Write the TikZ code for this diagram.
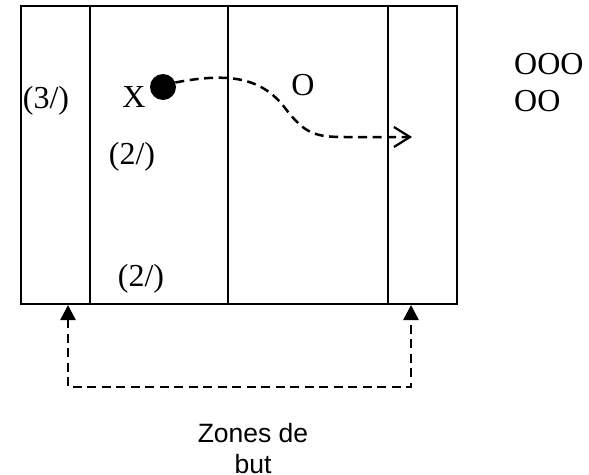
\documentclass[tikz,border=0pt]{standalone}
\usepackage{fontspec}
\setmainfont{Liberation Serif}
\newfontfamily\sansf{Liberation Sans}
\usetikzlibrary{arrows.meta}
\begin{document}
\begin{tikzpicture}[x=1pt,y=-1pt,
  frame/.style={line width=1.8pt},
  dashline/.style={line width=2.5pt, dash pattern=on 9pt off 5.5pt},
  lbl/.style={inner sep=0pt, font=\fontsize{32}{37}\selectfont},
  sanslbl/.style={inner sep=0pt, align=center, font=\sansf\fontsize{26.5}{31}\selectfont},
  dotnode/.style={circle, fill=black, minimum size=26pt, inner sep=0pt}]
\useasboundingbox (0,0) rectangle (589,474);
% field
\coordinate (tl) at (21,6);
\coordinate (br) at (457,304);
\draw[frame] (tl) rectangle (br);
\draw[frame] (90,6) -- (90,304);
\draw[frame] (228,6) -- (228,304);
\draw[frame] (388,6) -- (388,304);
% labels
\node[lbl] (l3) at (46,101) {(3/)};
\node[lbl] (l2a) at (132,157) {(2/)};
\node[lbl] (l2b) at (141,279) {(2/)};
\node[lbl] (xl) at (134,97) {X};
\node[lbl] (ol) at (303,85) {O};
\node[lbl, anchor=base west] (ooo) at (514,74) {OOO};
\node[lbl, anchor=base west] (oo) at (514,111) {OO};
% ball and run
\node[dotnode] (dot) at (163,87) {};
\coordinate (tipR) at (412,137);
\draw[dashline, -{Straight Barb[length=16pt,width=20pt,line width=2.2pt]}]
  (dot.20) .. controls (230,72) and (262,78) .. (285,108)
  .. controls (305,134) and (315,137) .. (345,137) -- (tipR);
% goal zones arrows
\coordinate (la) at (68,305);
\coordinate (lb) at (68,387);
\coordinate (rb) at (411,387);
\coordinate (ra) at (411,305);
\draw[dashline, {Triangle[length=15pt,width=15pt]}-{Triangle[length=15pt,width=15pt]}]
  (la) -- (lb) -- (rb) -- (ra);
\node[sanslbl, anchor=north] (zones) at (253,423) {Zones de\\but};
\end{tikzpicture}
\end{document}
